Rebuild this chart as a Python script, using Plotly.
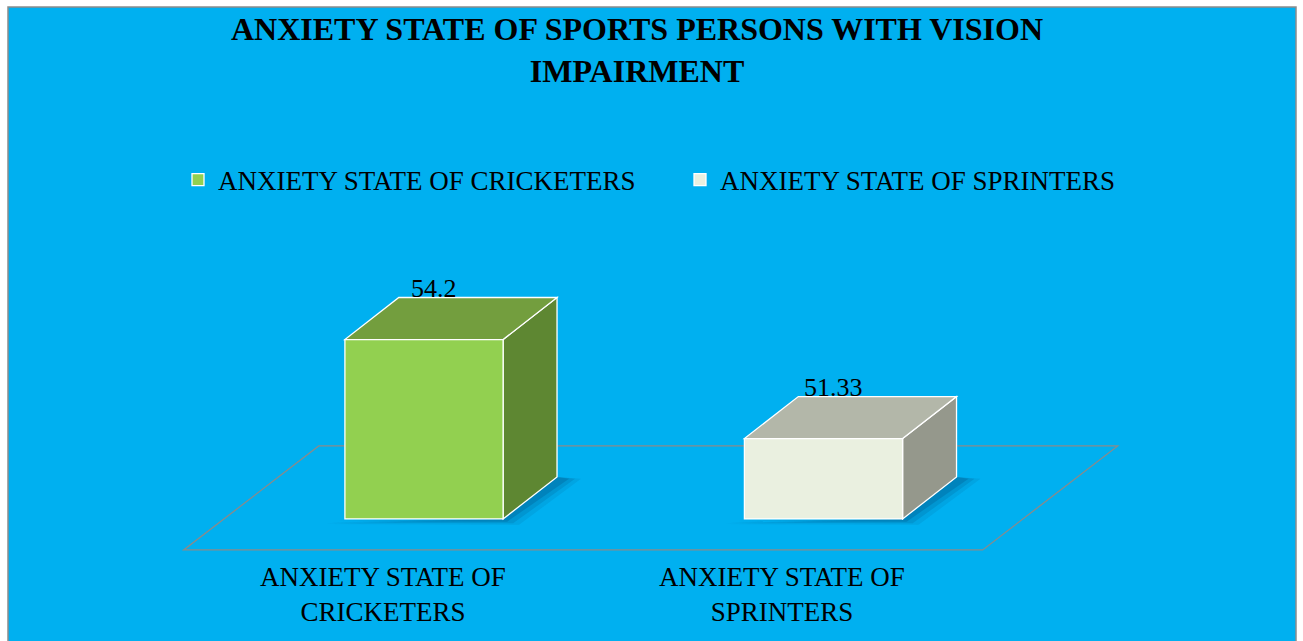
import plotly.graph_objects as go

# ---- data ----
series_names = ["ANXIETY STATE OF CRICKETERS", "ANXIETY STATE OF SPRINTERS"]
values = [54.2, 51.33]
tick_labels = ["ANXIETY STATE OF<br>CRICKETERS", "ANXIETY STATE OF<br>SPRINTERS"]
value_labels = ["54.2", "51.33"]
axis_min = 49

# ---- styles ----
BG = "#00B0F0"
front_colors = ["#92D050", "#EAF0E0"]
top_colors = ["#739E3E", "#B3B7A9"]
side_colors = ["#5E8732", "#95988C"]
FONT = "Liberation Serif"

W, H = 1303, 641
ML, MR, MT, MB = 60, 60, 250, 81
PW = W - ML - MR
PH = H - MT - MB
PX_X, PX_Y = 399.5, 34.5
CAT0_PX = 424                    # pixel position of first category
xr0 = -(CAT0_PX - ML) / PX_X
xr1 = xr0 + PW / PX_X
yr0 = axis_min - 1.19
yr1 = yr0 + PH / PX_Y

BW = 0.396
HW = BW / 2
DX, DY = 0.135, 1.218          # bar depth (3-D offset)
FDX, FDY = 0.338, 3.016        # floor depth


def path(pts):
    return "M " + " L ".join(f"{x},{y}" for x, y in pts) + " Z"


fig = go.Figure()
shapes = []

# background panel with border
shapes.append(dict(type="rect", xref="paper", yref="paper",
                   x0=(8 - ML) / PW, x1=(1296 - ML) / PW,
                   y0=-0.3, y1=(H - MB - 7) / PH,
                   fillcolor=BG, line=dict(color="#8C8C8C", width=1.5), layer="below"))

# floor
n = len(values)
yb = axis_min + DY / 2
xl = -0.5 + DX / 2
xrr = n - 0.5 + DX / 2
floor = [(xl - FDX / 2, yb - FDY / 2), (xrr - FDX / 2, yb - FDY / 2),
         (xrr + FDX / 2, yb + FDY / 2), (xl + FDX / 2, yb + FDY / 2)]
shapes.append(dict(type="path", xref="x", yref="y", path=path(floor),
                   line=dict(color="#8A8A8A", width=1.3), fillcolor="rgba(0,0,0,0)", layer="below"))

for i, v in enumerate(values):
    # soft shadow
    for k, (grow, op) in enumerate([(0.03, 0.08), (0.015, 0.12), (0.0, 0.16)]):
        sh = [(i - HW - 0.02 - grow, axis_min - 0.06 - grow * 3),
              (i + HW + 0.01 + grow, axis_min - 0.08 - grow * 3),
              (i + HW + DX + 0.03 + grow, axis_min + DY - 0.05),
              (i + HW + DX, axis_min + DY),
              (i + HW, axis_min)]
        shapes.append(dict(type="path", xref="x", yref="y", path=path(sh),
                           fillcolor=f"rgba(0,40,80,{op})", line=dict(width=0), layer="below"))
    # side face
    side = [(i + HW, axis_min), (i + HW, v), (i + HW + DX, v + DY), (i + HW + DX, axis_min + DY)]
    shapes.append(dict(type="path", xref="x", yref="y", path=path(side),
                       fillcolor=side_colors[i], line=dict(color="white", width=1.3), layer="below"))
    # top face
    top = [(i - HW, v), (i + HW, v), (i + HW + DX, v + DY), (i - HW + DX, v + DY)]
    shapes.append(dict(type="path", xref="x", yref="y", path=path(top),
                       fillcolor=top_colors[i], line=dict(color="white", width=1.3), layer="below"))

for i, (name, v) in enumerate(zip(series_names, values)):
    fig.add_trace(go.Bar(x=[i], y=[v - axis_min], base=axis_min, width=BW, name=name,
                         marker=dict(color=front_colors[i], line=dict(color="white", width=1.3)),
                         hoverinfo="skip"))

annotations = []
for i, v in enumerate(values):
    annotations.append(dict(x=i + 0.025, y=v + DY, xref="x", yref="y", text=value_labels[i],
                            showarrow=False, yanchor="middle", yshift=9,
                            font=dict(family=FONT, size=26, color="black")))
    annotations.append(dict(x=i - 0.103, y=yb - FDY / 2, xref="x", yref="y", text=tick_labels[i],
                            showarrow=False, yanchor="middle", yshift=-45,
                            font=dict(family=FONT, size=27, color="black")))

fig.update_layout(
    width=W, height=H,
    margin=dict(l=ML, r=MR, t=MT, b=MB),
    paper_bgcolor="white", plot_bgcolor="rgba(0,0,0,0)",
    barmode="overlay",
    shapes=shapes, annotations=annotations,
    title=dict(text="ANXIETY STATE OF SPORTS PERSONS WITH VISION<br>IMPAIRMENT",
               x=637 / W, xanchor="center", xref="container",
               y=1 - 40 / H, yanchor="middle", yref="container",
               font=dict(family=FONT, size=32, color="black", weight="bold")),
    legend=dict(orientation="h", x=(178 - ML) / PW, xanchor="left",
                y=(H - MB - 180) / PH, yanchor="middle",
                entrywidth=457, entrywidthmode="pixels",
                bgcolor="rgba(0,0,0,0)", font=dict(family=FONT, size=27, color="black"),
                itemclick=False, itemdoubleclick=False),
    xaxis=dict(range=[xr0, xr1], visible=False, fixedrange=True),
    yaxis=dict(range=[yr0, yr1], visible=False, fixedrange=True),
    showlegend=True,
)

fig.write_html("out.html", config={"displayModeBar": False},
               post_script="document.body.style.margin='0';document.body.style.overflow='hidden';")
